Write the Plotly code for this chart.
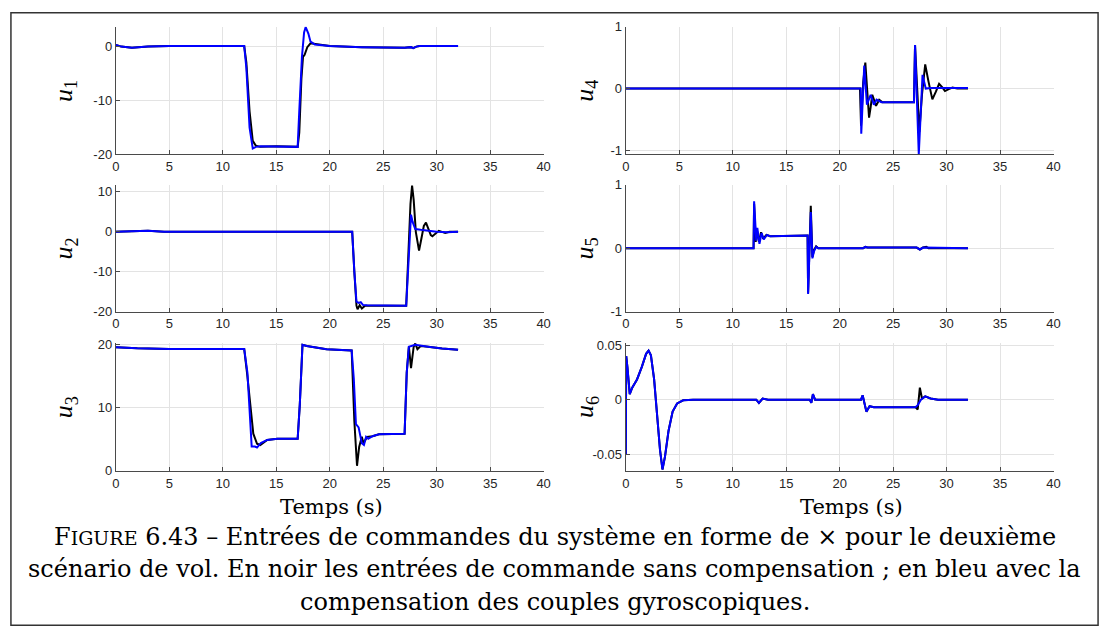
import plotly.graph_objects as go
from plotly.subplots import make_subplots

# ---------------- data ----------------
t_u1_k = [0, 0.5, 1.5, 3, 5, 12.0, 12.2, 12.5, 12.8, 13.1, 13.5, 15, 17.0, 17.15, 17.35, 17.5, 17.65, 17.9, 18.2, 18.6, 19.3, 20, 23, 25, 27, 27.6, 27.8, 28.1, 28.4, 32]
u1_k = [0.2, -0.1, -0.3, -0.1, 0, 0, -3, -12, -17.5, -18.4, -18.6, -18.5, -18.6, -16, -6, -2.0, -1.6, -0.2, 0.5, 0.4, 0.1, 0, -0.2, -0.3, -0.3, -0.2, -0.4, -0.1, 0, 0]
t_u1_b = [0, 0.5, 1.5, 3, 5, 12.0, 12.2, 12.5, 12.8, 13.1, 13.5, 15, 17.0, 17.15, 17.4, 17.6, 17.75, 18.0, 18.2, 18.6, 19.3, 20, 23, 25, 27, 27.6, 27.8, 28.1, 28.4, 32]
u1_b = [0.2, -0.1, -0.3, -0.1, 0, 0, -4, -15, -18.9, -18.6, -18.5, -18.5, -18.6, -12, -2, 2.5, 3.5, 2.3, 0.8, 0.3, 0.1, 0, -0.2, -0.3, -0.3, -0.2, -0.4, -0.1, 0, 0]

t_u2_k = [0, 1.5, 3, 4.5, 22.1, 22.3, 22.5, 22.6, 22.8, 23.0, 23.3, 27.15, 27.35, 27.55, 27.7, 27.85, 28.05, 28.35, 28.55, 28.8, 29.0, 29.2, 29.45, 29.6, 29.8, 30.0, 30.2, 30.5, 30.8, 31.2, 32]
u2_k = [0, 0.1, 0.3, 0, 0, -10, -18.5, -19.4, -18.4, -19.2, -18.5, -18.5, -5, 7, 11.6, 8, 0, -4.7, -2, 1.5, 2.3, 1.0, -0.8, -1.1, -0.6, 0, 0.25, 0, -0.3, 0, 0]
t_u2_b = [0, 1.5, 3, 4.5, 22.1, 22.3, 22.5, 22.7, 22.9, 23.1, 23.5, 27.15, 27.35, 27.5, 27.6, 27.75, 28.0, 28.5, 29, 30, 31, 32]
u2_b = [0, 0.1, 0.3, 0, 0, -10, -17.5, -17.8, -17.6, -18.3, -18.4, -18.5, -8, 2, 4.3, 2.5, 0.7, 0.5, 0.3, 0, -0.1, 0]

t_u3_k = [0, 2, 5, 12.0, 12.3, 12.6, 12.85, 13.2, 13.5, 14.15, 15.1, 17.0, 17.2, 17.45, 17.85, 19.7, 22.05, 22.3, 22.55, 22.75, 23.0, 23.15, 23.5, 24.0, 24.6, 27.0, 27.2, 27.4, 27.6, 27.85, 28.0, 28.2, 28.5, 29.2, 30.5, 32]
u3_k = [19.6, 19.45, 19.35, 19.35, 15, 9.5, 5.9, 4.3, 4.1, 4.9, 5.1, 5.1, 10.5, 20.0, 19.8, 19.3, 19.1, 7.9, 0.8, 3.8, 5.4, 4.4, 5.4, 5.5, 5.8, 5.9, 15.6, 19.7, 16.3, 19.7, 20.2, 19.3, 19.8, 19.7, 19.4, 19.2]
t_u3_b = [0, 2, 5, 12.0, 12.3, 12.55, 12.7, 13.0, 13.2, 13.55, 14.15, 15.1, 17.0, 17.2, 17.45, 17.85, 19.7, 22.05, 22.25, 22.45, 22.7, 23.0, 23.2, 23.4, 23.6, 24.0, 24.6, 27.0, 27.2, 27.4, 27.7, 28.0, 29.2, 30.5, 32]
u3_b = [19.6, 19.45, 19.35, 19.35, 15.6, 7.9, 3.85, 3.85, 3.7, 4.4, 4.9, 5.1, 5.1, 10.5, 20.0, 19.8, 19.3, 19.1, 14.6, 7.4, 6.9, 4.4, 4.1, 5.4, 5.1, 5.5, 5.8, 5.9, 15.6, 19.7, 19.8, 20.0, 19.7, 19.4, 19.2]

t_u4_k = [0, 12.3, 12.4, 12.5, 17.3, 17.4, 17.5, 21.9, 22.0, 22.2, 22.4, 22.6, 22.75, 22.9, 23.05, 23.25, 23.4, 23.7, 24.0, 26.95, 27.05, 27.25, 27.45, 27.7, 28.0, 28.3, 28.67, 29.0, 29.3, 29.6, 29.85, 30.2, 30.55, 31.0, 32]
u4_k = [0, 0, 0.01, 0, 0, 0.01, 0, 0, -0.6, 0.1, 0.42, -0.1, -0.47, -0.3, -0.1, -0.2, -0.28, -0.18, -0.22, -0.22, 0.7, 0.0, -0.7, -0.1, 0.39, 0.12, -0.175, -0.05, 0.075, 0.02, -0.04, -0.01, 0.015, 0, 0]
t_u4_b = [0, 12.3, 12.4, 12.5, 17.3, 17.4, 17.5, 21.9, 21.97, 22.02, 22.3, 22.55, 22.9, 23.2, 23.45, 23.9, 26.95, 27.05, 27.4, 27.75, 28.05, 28.5, 32]
u4_b = [0, 0, 0.01, 0, 0, 0.01, 0, 0, 0, -0.73, 0.37, -0.26, -0.1, -0.26, -0.18, -0.22, -0.22, 0.7, -1.06, 0.22, 0, 0.01, 0.01]

t_u5_k = [0, 11.95, 12.0, 12.15, 12.25, 12.45, 12.65, 12.85, 13.15, 13.5, 17.0, 17.05, 17.3, 17.45, 17.6, 17.8, 18.0, 22.2, 22.4, 22.6, 27.2, 27.5, 27.8, 28.1, 28.3, 32]
u5_k = [0, 0, 0.7, 0.1, 0.3, 0.1, 0.25, 0.15, 0.21, 0.19, 0.2, -0.7, 0.67, -0.14, -0.03, 0.03, 0, 0, 0.02, 0.01, 0.01, -0.02, 0.01, 0.02, 0, 0]
t_u5_b = [0, 11.95, 12.0, 12.2, 12.3, 12.5, 12.7, 12.9, 13.2, 13.5, 17.0, 17.05, 17.3, 17.45, 17.6, 17.8, 18.0, 22.2, 22.4, 22.6, 27.2, 27.5, 27.8, 28.1, 28.3, 32]
u5_b = [0, 0, 0.74, 0.12, 0.32, 0.07, 0.24, 0.14, 0.21, 0.19, 0.2, -0.72, 0.57, -0.16, -0.05, 0.02, 0, 0, 0.02, 0.01, 0.01, -0.02, 0.01, 0.01, 0, 0]

t_u6_b = [0, 0.04, 0.15, 0.37, 0.6, 1.05, 1.5, 1.9, 2.13, 2.35, 2.65, 2.9, 3.2, 3.43, 3.67, 4.0, 4.38, 4.8, 5.37, 6.3, 12.2, 12.45, 12.8, 13.3, 17.2, 17.35, 17.5, 17.7, 22.0, 22.15, 22.5, 22.8, 23.2, 27.1, 27.3, 27.6, 28.0, 28.5, 29.2, 32]
u6_b = [-0.05, 0.04, 0.03, 0.005, 0.011, 0.0185, 0.030, 0.042, 0.045, 0.0406, 0.0185, -0.011, -0.046, -0.064, -0.052, -0.0285, -0.011, -0.0035, -0.0006, 0, 0, -0.003, 0.001, 0, 0, -0.003, 0.005, 0, 0, 0.004, -0.011, -0.006, -0.007, -0.007, -0.005, 0, 0.003, 0.001, 0, 0]
t_u6_k = [0, 0.04, 0.15, 0.37, 0.6, 1.05, 1.5, 1.9, 2.13, 2.35, 2.65, 2.9, 3.2, 3.43, 3.67, 4.0, 4.38, 4.8, 5.37, 6.3, 12.2, 12.45, 12.8, 13.3, 17.2, 17.35, 17.5, 17.7, 22.0, 22.15, 22.5, 22.8, 23.2, 27.1, 27.3, 27.5, 27.7, 28.0, 28.5, 29.2, 32]
u6_k = [-0.05, 0.04, 0.03, 0.005, 0.011, 0.0185, 0.030, 0.042, 0.045, 0.0406, 0.0185, -0.011, -0.046, -0.064, -0.052, -0.0285, -0.011, -0.0035, -0.0006, 0, 0, -0.003, 0.001, 0, 0, -0.003, 0.005, 0, 0, 0.004, -0.011, -0.006, -0.007, -0.007, -0.009, 0.011, 0.001, 0.003, 0.001, 0, 0]

x_ticks = [0, 5, 10, 15, 20, 25, 30, 35, 40]
y_ticks = {
    1: [-20, -10, 0],
    2: [-20, -10, 0, 10],
    3: [0, 10, 20],
    4: [-1, 0, 1],
    5: [-1, 0, 1],
    6: [-0.05, 0, 0.05],
}
y_ticktext = {
    1: ["-20", "-10", "0"],
    2: ["-20", "-10", "0", "10"],
    3: ["0", "10", "20"],
    4: ["-1", "0", "1"],
    5: ["-1", "0", "1"],
    6: ["-0.05", "0", "0.05"],
}
y_ranges = {1: [-20, 3.6], 2: [-20, 11.8], 3: [0, 20.3], 4: [-1.063, 1], 5: [-1, 1], 6: [-0.0653, 0.052]}
y_labels = {1: "u", 2: "u", 3: "u", 4: "u", 5: "u", 6: "u"}
x_label = "Temps (s)"

caption = [
    "F<span style='font-size:19px'>IGURE</span> 6.43 – Entrées de commandes du système en forme de × pour le deuxième",
    "scénario de vol. En noir les entrées de commande sans compensation ; en bleu avec la",
    "compensation des couples gyroscopiques.",
]

series = {
    1: (t_u1_k, u1_k, t_u1_b, u1_b),
    2: (t_u2_k, u2_k, t_u2_b, u2_b),
    3: (t_u3_k, u3_k, t_u3_b, u3_b),
    4: (t_u4_k, u4_k, t_u4_b, u4_b),
    5: (t_u5_k, u5_k, t_u5_b, u5_b),
    6: (t_u6_k, u6_k, t_u6_b, u6_b),
}

# ---------------- figure ----------------
W, H = 1112, 639
fig = make_subplots(rows=3, cols=2)

# pixel layout
col_x = {1: (113, 545), 2: (628, 1060)}
row_y = {1: (20, 151), 2: (182, 312), 3: (344, 475)}
pos = {1: (1, 1), 2: (2, 1), 3: (3, 1), 4: (1, 2), 5: (2, 2), 6: (3, 2)}

axis_style = dict(showgrid=True, gridcolor="#e3e3e3", gridwidth=1, zeroline=False,
                  showline=True, linecolor="#4a4a4a", linewidth=1.3,
                  ticks="inside", ticklen=4, tickcolor="#4a4a4a",
                  tickfont=dict(family="Liberation Sans, Arial", size=13, color="#262626"))

for k, (r, c) in pos.items():
    tk, vk, tb, vb = series[k]
    fig.add_trace(go.Scatter(x=tk, y=vk, mode="lines", line=dict(color="black", width=2),
                             showlegend=False, hoverinfo="skip"), row=r, col=c)
    fig.add_trace(go.Scatter(x=tb, y=vb, mode="lines", line=dict(color="#0000ff", width=2),
                             showlegend=False, hoverinfo="skip"), row=r, col=c)
    x0, x1 = col_x[c]
    y0, y1 = row_y[r]
    fig.update_xaxes(domain=[x0 / W, x1 / W], range=[0, 40], tickvals=x_ticks,
                     ticktext=[str(v) for v in x_ticks], row=r, col=c, **axis_style)
    fig.update_yaxes(domain=[1 - y1 / H, 1 - y0 / H], range=y_ranges[k], tickvals=y_ticks[k],
                     ticktext=y_ticktext[k], row=r, col=c, **axis_style)
    # y label
    lx = 62 if c == 1 else 588
    fig.add_annotation(x=lx / W, y=1 - (y0 + y1) / 2 / H, xref="paper", yref="paper",
                       text="<i>%s</i><sub>%d</sub>" % (y_labels[k], k), textangle=-90,
                       showarrow=False, xanchor="center", yanchor="middle",
                       font=dict(family="Liberation Serif, serif", size=26, color="black"))

# x labels
for cx in (331, 856):
    fig.add_annotation(x=cx / W, y=1 - 512 / H, xref="paper", yref="paper", text=x_label,
                       showarrow=False, xanchor="center", yanchor="middle",
                       font=dict(family="DejaVu Serif, serif", size=21, color="black"))

# caption
for i, line in enumerate(caption):
    fig.add_annotation(x=556 / W, y=1 - (543 + 33 * i) / H, xref="paper", yref="paper", text=line,
                       showarrow=False, xanchor="center", yanchor="middle",
                       font=dict(family="DejaVu Serif, serif", size=24, color="black"))

# frame
fig.add_shape(type="rect", xref="paper", yref="paper", x0=7 / W, x1=1105 / W, y0=1 - 633 / H, y1=1 - 6 / H,
              line=dict(color="#333333", width=1.5), fillcolor="rgba(0,0,0,0)")

fig.update_layout(width=W, height=H, margin=dict(l=0, r=0, t=0, b=0),
                  paper_bgcolor="white", plot_bgcolor="white")

fig.write_html("out.html", config={"displayModeBar": False},
               post_script="document.body.style.margin='0px';document.body.style.overflow='hidden';")
